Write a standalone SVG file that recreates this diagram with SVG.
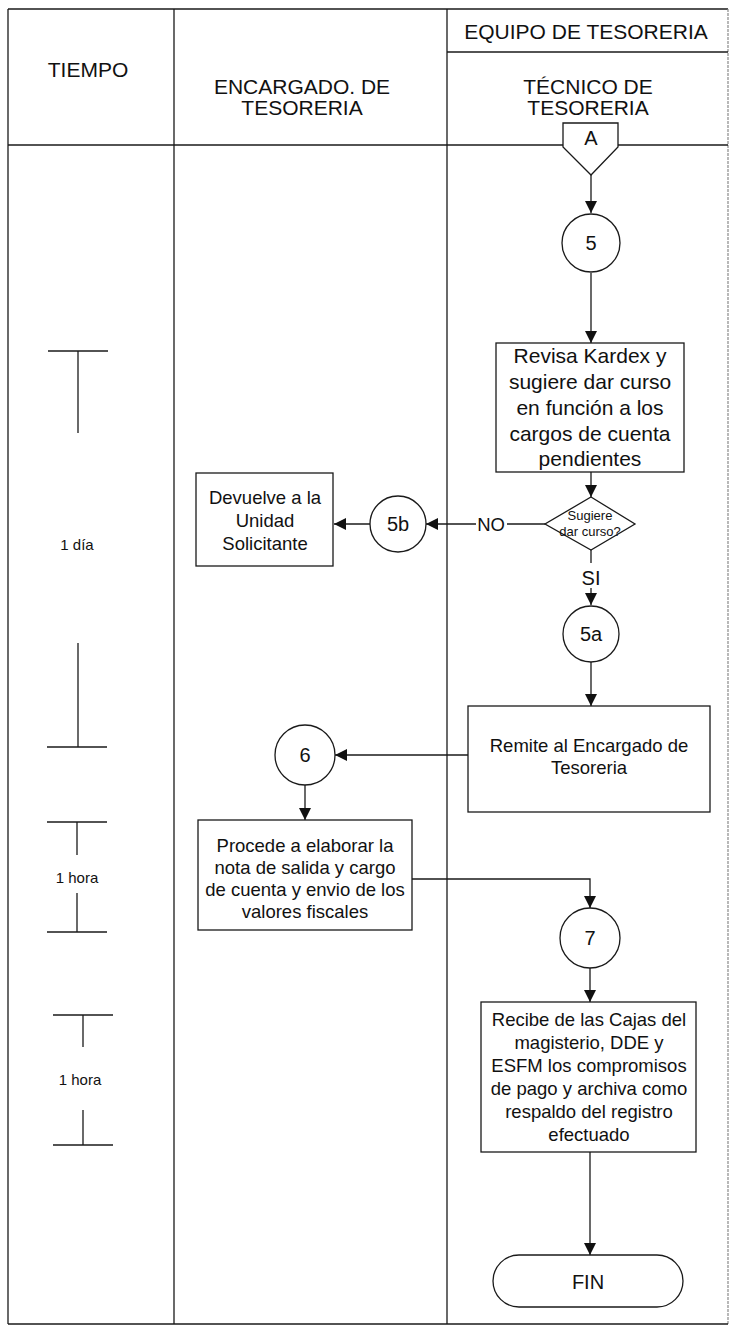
<svg xmlns="http://www.w3.org/2000/svg" width="731" height="1326" viewBox="0 0 731 1326">
  <style>
    .frame { stroke: #1a1a1a; stroke-width: 1.3; fill: none; }
    .faint { stroke: #8a8a8a; stroke-width: 1.2; fill: none; stroke-dasharray: 3 1; }
    .box { fill: #ffffff; stroke: #1a1a1a; stroke-width: 1.3; }
    .link { stroke: #1a1a1a; stroke-width: 1.3; fill: none; }
    .tick { stroke: #1a1a1a; stroke-width: 1.3; fill: none; }
    text { font-family: "Liberation Sans", Arial, sans-serif; fill: #111111; text-anchor: middle; }
    .hdr { font-size: 21px; }
    .lbl { font-size: 18.5px; }
    .big { font-size: 21px; }
    .num { font-size: 20px; }
    .small { font-size: 13px; }
    .time { font-size: 15px; }
  </style>
  <defs>
    <marker id="arrow" viewBox="0 0 12 12" refX="12" refY="6" markerWidth="12" markerHeight="12" markerUnits="userSpaceOnUse" orient="auto">
      <path d="M0,0 L12,6 L0,12 Z" fill="#111111"/>
    </marker>
  </defs>

  <rect width="731" height="1326" fill="#ffffff"/>

  <!-- swimlane table -->
  <g id="lanes">
    <line class="frame" x1="8" y1="9" x2="728" y2="9"/>
    <line class="frame" x1="8" y1="9" x2="8" y2="1324"/>
    <line class="frame" x1="174" y1="9" x2="174" y2="1324"/>
    <line class="frame" x1="447" y1="9" x2="447" y2="1324"/>
    <line class="faint" x1="728" y1="9" x2="728" y2="1324"/>
    <line class="frame" x1="447" y1="52" x2="728" y2="52"/>
    <line class="frame" x1="8" y1="145" x2="728" y2="145"/>
    <line class="frame" x1="8" y1="1324" x2="728" y2="1324"/>
    <text class="hdr" x="88" y="77">TIEMPO</text>
    <text class="hdr" x="302" y="94">ENCARGADO. DE</text>
    <text class="hdr" x="302" y="115">TESORERIA</text>
    <text class="hdr" x="586" y="39">EQUIPO DE TESORERIA</text>
    <text class="hdr" x="588" y="94">TÉCNICO DE</text>
    <text class="hdr" x="588" y="115">TESORERIA</text>
  </g>

  <!-- time spans -->
  <g id="time-1dia">
    <line class="tick" x1="48" y1="351" x2="108" y2="351"/>
    <line class="tick" x1="78" y1="351" x2="78" y2="433"/>
    <text class="time" x="77" y="550">1 día</text>
    <line class="tick" x1="78" y1="643" x2="78" y2="747"/>
    <line class="tick" x1="47" y1="747" x2="107" y2="747"/>
  </g>
  <g id="time-1hora-a">
    <line class="tick" x1="47" y1="822" x2="107" y2="822"/>
    <line class="tick" x1="77" y1="822" x2="77" y2="855"/>
    <text class="time" x="77" y="883">1 hora</text>
    <line class="tick" x1="77" y1="893" x2="77" y2="932"/>
    <line class="tick" x1="47" y1="932" x2="107" y2="932"/>
  </g>
  <g id="time-1hora-b">
    <line class="tick" x1="53" y1="1015" x2="113" y2="1015"/>
    <line class="tick" x1="83" y1="1015" x2="83" y2="1047"/>
    <text class="time" x="80" y="1085">1 hora</text>
    <line class="tick" x1="83" y1="1110" x2="83" y2="1145"/>
    <line class="tick" x1="53" y1="1145" x2="113" y2="1145"/>
  </g>

  <!-- connectors -->
  <g id="connectors">
    <line class="link" x1="591" y1="175" x2="591" y2="213" marker-end="url(#arrow)"/>
    <line class="link" x1="591" y1="273" x2="591" y2="343" marker-end="url(#arrow)"/>
    <line class="link" x1="591" y1="472" x2="591" y2="497" marker-end="url(#arrow)"/>
    <line class="link" x1="545" y1="524" x2="507" y2="524"/>
    <line class="link" x1="476" y1="524" x2="426" y2="524" marker-end="url(#arrow)"/>
    <line class="link" x1="370" y1="524" x2="334" y2="524" marker-end="url(#arrow)"/>
    <line class="link" x1="591" y1="550" x2="591" y2="563"/>
    <line class="link" x1="591" y1="588" x2="591" y2="605" marker-end="url(#arrow)"/>
    <line class="link" x1="591" y1="662" x2="591" y2="706" marker-end="url(#arrow)"/>
    <line class="link" x1="468" y1="755" x2="335" y2="755" marker-end="url(#arrow)"/>
    <line class="link" x1="305" y1="785" x2="305" y2="820" marker-end="url(#arrow)"/>
    <polyline class="link" points="412,879 590,879 590,908" marker-end="url(#arrow)"/>
    <line class="link" x1="590" y1="968" x2="590" y2="1002" marker-end="url(#arrow)"/>
    <line class="link" x1="590" y1="1152" x2="590" y2="1255" marker-end="url(#arrow)"/>
    <text class="lbl" x="491" y="531">NO</text>
    <text class="num" x="591" y="585">SI</text>
  </g>

  <!-- off-page connector A -->
  <g id="node-A">
    <path class="box" d="M563,123 L618,123 L618,147 L591,175 L563,147 Z"/>
    <text class="num" x="591" y="145">A</text>
  </g>

  <g id="node-5">
    <circle class="box" cx="591" cy="243" r="29"/>
    <text class="num" x="591" y="250">5</text>
  </g>

  <g id="node-revisa">
    <rect class="box" x="496" y="343" width="188" height="129"/>
    <text class="big" x="590" y="363">Revisa Kardex y</text>
    <text class="big" x="590" y="389">sugiere dar curso</text>
    <text class="big" x="590" y="415">en función a los</text>
    <text class="big" x="590" y="441">cargos de cuenta</text>
    <text class="big" x="590" y="466">pendientes</text>
  </g>

  <g id="node-decision">
    <path class="box" d="M591,497 L635,524 L591,550 L545,524 Z"/>
    <text class="small" x="590" y="520">Sugiere</text>
    <text class="small" x="590" y="536">dar curso?</text>
  </g>

  <g id="node-5b">
    <circle class="box" cx="398" cy="524" r="28"/>
    <text class="num" x="398" y="531">5b</text>
  </g>

  <g id="node-devuelve">
    <rect class="box" x="196" y="473" width="137" height="93"/>
    <text class="lbl" x="265" y="504">Devuelve a la</text>
    <text class="lbl" x="265" y="527">Unidad</text>
    <text class="lbl" x="265" y="550">Solicitante</text>
  </g>

  <g id="node-5a">
    <circle class="box" cx="591" cy="634" r="28"/>
    <text class="num" x="591" y="641">5a</text>
  </g>

  <g id="node-remite">
    <rect class="box" x="468" y="706" width="242" height="106"/>
    <text class="lbl" x="589" y="752">Remite al Encargado de</text>
    <text class="lbl" x="589" y="774">Tesoreria</text>
  </g>

  <g id="node-6">
    <circle class="box" cx="305" cy="755" r="30"/>
    <text class="num" x="305" y="762">6</text>
  </g>

  <g id="node-procede">
    <rect class="box" x="198" y="820" width="214" height="110"/>
    <text class="lbl" x="305" y="852">Procede a elaborar la</text>
    <text class="lbl" x="305" y="874">nota de salida y cargo</text>
    <text class="lbl" x="305" y="896">de cuenta y envio de los</text>
    <text class="lbl" x="305" y="918">valores fiscales</text>
  </g>

  <g id="node-7">
    <circle class="box" cx="590" cy="938" r="30"/>
    <text class="num" x="590" y="945">7</text>
  </g>

  <g id="node-recibe">
    <rect class="box" x="481" y="1002" width="215" height="150"/>
    <text class="lbl" x="589" y="1026">Recibe de las Cajas del</text>
    <text class="lbl" x="589" y="1049">magisterio, DDE y</text>
    <text class="lbl" x="589" y="1072">ESFM los compromisos</text>
    <text class="lbl" x="589" y="1095">de pago y archiva como</text>
    <text class="lbl" x="589" y="1118">respaldo del registro</text>
    <text class="lbl" x="589" y="1141">efectuado</text>
  </g>

  <g id="node-fin">
    <rect class="box" x="493" y="1255" width="190" height="52" rx="26" ry="26"/>
    <text class="num" x="588" y="1289">FIN</text>
  </g>
</svg>
